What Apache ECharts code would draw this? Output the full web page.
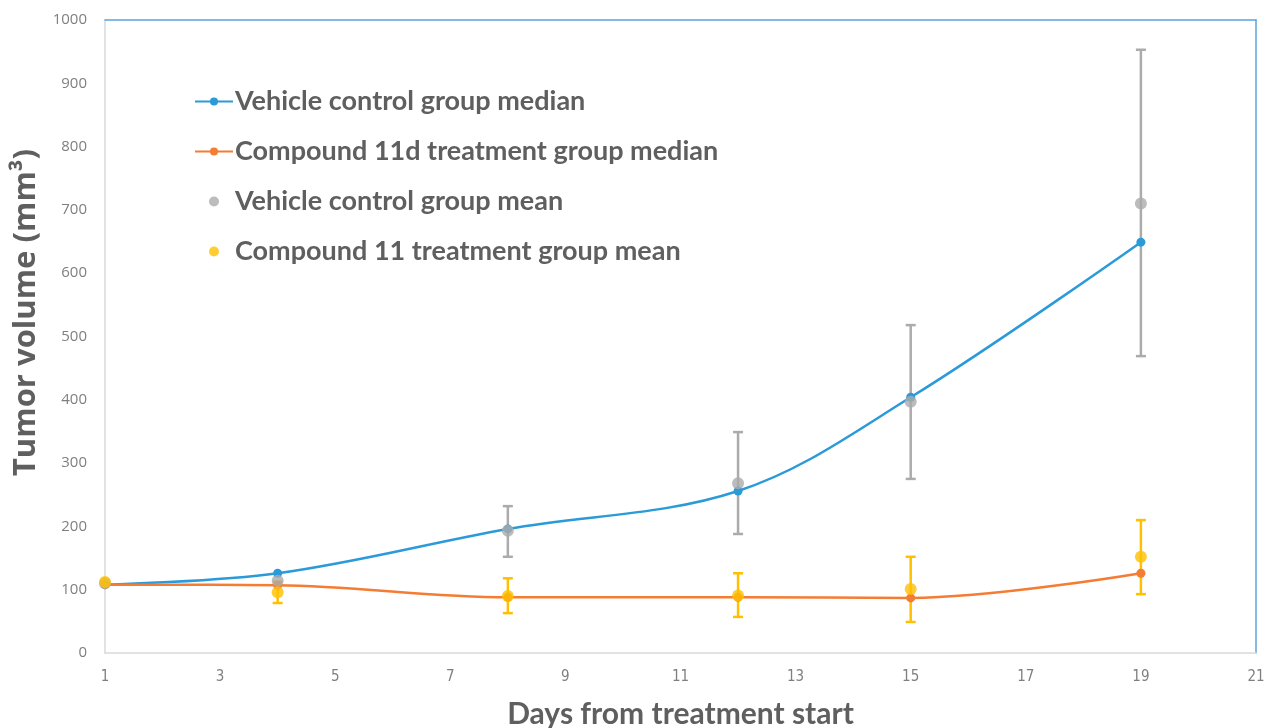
<!DOCTYPE html>
<html><head><meta charset="utf-8">
<script src="https://cdn.jsdelivr.net/npm/echarts@6/dist/echarts.min.js"></script>
<style>html,body{margin:0;padding:0;background:#fff}#c{width:1267px;height:728px}</style>
</head><body><div id="c"></div>
<script>
const days = [1, 4, 8, 12, 15, 19];
const vehicleMedian = [108, 126, 196, 256, 404, 649];
const compoundMedian = [108, 107, 88, 88, 87, 126];
const vehicleMean = [110, 114, 193, 268, 397, 710];
const vehicleLow = [null, null, 152, 188, 275, 469];
const vehicleHigh = [null, null, 232, 349, 518, 953];
const compoundMean = [112, 96, 90, 91, 101, 152];
const compoundLow = [null, 79, 63, 57, 49, 93];
const compoundHigh = [null, 113, 118, 126, 152, 210];
const xTicks = {min: 1, max: 21, interval: 2};
const yTicks = {min: 0, max: 1000, interval: 100};

const names = ['Vehicle control group median', 'Compound 11d treatment group median', 'Vehicle control group mean', 'Compound 11 treatment group mean'];
const C = {blue: '#2B9AD9', orange: '#F47C33', gray: '#ABABAB', yellow: '#FFC000'};

function pairs(ys) { return days.map((d, i) => [d, ys[i]]); }
function errData(lo, hi) {
  const out = [];
  days.forEach((d, i) => { if (lo[i] != null) out.push([d, lo[i], hi[i]]); });
  return out;
}
function errSeries(lo, hi, color) {
  return {
    type: 'custom', silent: true, z: 1,
    data: errData(lo, hi),
    encode: {x: 0, y: [1, 2]},
    renderItem: function (params, api) {
      const x = api.value(0);
      const p1 = api.coord([x, api.value(1)]);
      const p2 = api.coord([x, api.value(2)]);
      const w = 5;
      const st = {stroke: color, lineWidth: 2.5};
      return {type: 'group', children: [
        {type: 'line', shape: {x1: p1[0], y1: p1[1], x2: p2[0], y2: p2[1]}, style: st},
        {type: 'line', shape: {x1: p1[0] - w, y1: p1[1], x2: p1[0] + w, y2: p1[1]}, style: st},
        {type: 'line', shape: {x1: p2[0] - w, y1: p2[1], x2: p2[0] + w, y2: p2[1]}, style: st}
      ]};
    }
  };
}

const chart = echarts.init(document.getElementById('c'), null, {renderer: 'canvas'});
chart.setOption({
  animation: false,
  backgroundColor: '#fff',
  grid: {left: 105, right: 11, top: 20, bottom: 75, containLabel: false, outerBoundsMode: 'none'},
  legend: {
    data: names.map(n => ({name: n})),
    orient: 'vertical', left: 189, top: 83, itemGap: 23, itemWidth: 38, itemHeight: 10,
    textStyle: {color: '#5F5F5F', fontSize: 27, fontWeight: 'bold', fontFamily: 'Lato', padding: [0, 0, 0, -3]}
  },
  xAxis: [{
    type: 'value', min: xTicks.min, max: xTicks.max, interval: xTicks.interval,
    name: 'Days from treatment start', nameLocation: 'middle', nameGap: 46,
    nameTextStyle: {color: '#5F5F5F', fontSize: 30, fontWeight: 'bold', fontFamily: 'Lato'},
    axisLine: {onZero: false, lineStyle: {color: '#D9D9D9', width: 1.5}},
    axisTick: {show: false}, splitLine: {show: false},
    axisLabel: {color: '#7F7F7F', fontSize: 15, margin: 17, fontFamily: 'DejaVu Sans Condensed, Liberation Sans Narrow'}
  }, {
    type: 'value', position: 'top', min: xTicks.min, max: xTicks.max,
    axisLine: {show: true, onZero: false, lineStyle: {color: '#5BA3DB', width: 1.5}},
    axisTick: {show: false}, axisLabel: {show: false}, splitLine: {show: false}
  }],
  yAxis: [{
    type: 'value', min: yTicks.min, max: yTicks.max, interval: yTicks.interval,
    name: 'Tumor volume (mm³)', nameLocation: 'middle', nameGap: 52, nameRotate: 90,
    nameTextStyle: {color: '#5F5F5F', fontSize: 31, fontWeight: 'bold', fontFamily: 'Open Sans', padding: [0, 0, 0, 48]},
    axisLine: {show: true, onZero: false, lineStyle: {color: '#D9D9D9', width: 1.5}},
    axisTick: {show: false}, splitLine: {show: false},
    axisLabel: {color: '#7F7F7F', fontSize: 15, margin: 18, fontFamily: 'Open Sans', formatter: v => String(v)}
  }, {
    type: 'value', position: 'right', min: yTicks.min, max: yTicks.max,
    axisLine: {show: true, onZero: false, lineStyle: {color: '#5BA3DB', width: 1.5}},
    axisTick: {show: false}, axisLabel: {show: false}, splitLine: {show: false}
  }],
  series: [
    {name: names[0], type: 'line', data: pairs(vehicleMedian), smooth: 0.35, symbol: 'circle', symbolSize: 9,
     color: C.blue, lineStyle: {width: 2.5, color: C.blue}, itemStyle: {color: C.blue}, z: 3},
    {name: names[1], type: 'line', data: pairs(compoundMedian), smooth: 0.35, symbol: 'circle', symbolSize: 9,
     color: C.orange, lineStyle: {width: 2.5, color: C.orange}, itemStyle: {color: C.orange}, z: 3},
    errSeries(vehicleLow, vehicleHigh, C.gray),
    errSeries(compoundLow, compoundHigh, C.yellow),
    {name: names[2], type: 'scatter', data: pairs(vehicleMean), symbol: 'circle', symbolSize: 12,
     color: C.gray, itemStyle: {color: C.gray}, z: 4},
    {name: names[3], type: 'scatter', data: pairs(compoundMean), symbol: 'circle', symbolSize: 12,
     color: C.yellow, itemStyle: {color: C.yellow}, z: 4}
  ]
});
</script></body></html>
